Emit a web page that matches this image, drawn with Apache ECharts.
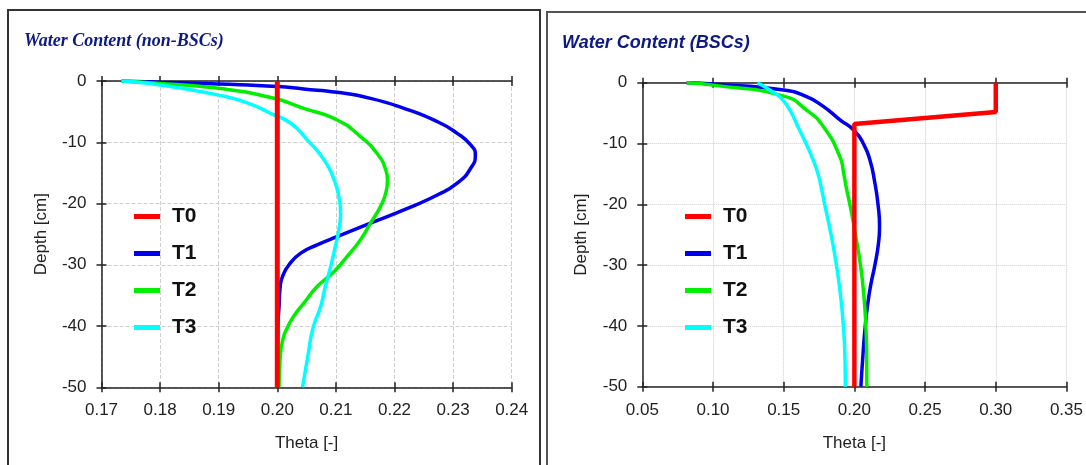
<!DOCTYPE html>
<html>
<head>
<meta charset="utf-8">
<script src="https://cdn.jsdelivr.net/npm/echarts@6/dist/echarts.min.js"></script>
<style>html,body{margin:0;padding:0;background:#fff}#c{width:1086px;height:465px}</style>
</head>
<body>
<div id="c"></div>
<script>
// ---- data: [theta, depth] ----
const seriesNames = ['T0', 'T1', 'T2', 'T3'];
const colors = ['#ff0000', '#0000ee', '#00ee00', '#00ffff'];

const nonT0 = [[0.2, 0], [0.2, -50]];
const nonT1 = [[0.1734,0],[0.18,-0.2],[0.19,-0.5],[0.20,-0.9],[0.2045,-1.3],[0.2102,-1.85],[0.2159,-2.83],[0.2216,-4.46],[0.2273,-6.63],[0.2307,-8.54],[0.2330,-10.44],[0.2338,-12.07],[0.2330,-14.25],[0.2307,-16.69],[0.2273,-18.6],[0.2216,-21.04],[0.2159,-23.2],[0.2102,-25.4],[0.2068,-26.75],[0.2040,-28.1],[0.2020,-30.0],[0.2009,-31.9],[0.2005,-33.5],[0.2003,-36.8],[0.2001,-40],[0.2,-50]];
const nonT2 = [[0.1734,0],[0.18,-0.4],[0.19,-1.2],[0.1989,-2.7],[0.2045,-4.46],[0.2102,-6.36],[0.2142,-9.08],[0.217,-11.8],[0.2185,-14.5],[0.2188,-16.15],[0.2185,-18.3],[0.2176,-20.5],[0.2159,-23.2],[0.2142,-25.9],[0.2119,-28.66],[0.2097,-31.1],[0.2068,-33.55],[0.2045,-36.3],[0.2028,-38.4],[0.2017,-40.3],[0.2010,-42],[0.2005,-45],[0.2003,-50]];
const nonT3 = [[0.1734,0],[0.18,-0.65],[0.19,-2.3],[0.195,-3.6],[0.1989,-5.3],[0.2023,-6.9],[0.2051,-9.6],[0.208,-12.9],[0.2097,-16.15],[0.2105,-18.9],[0.2108,-21.6],[0.2105,-24.3],[0.2099,-27.0],[0.2091,-30.3],[0.2082,-33.55],[0.2074,-36.8],[0.2061,-40.3],[0.2052,-45],[0.2043,-50]];

const bscT0 = [[0.30,0],[0.30,-4.8],[0.20,-6.8],[0.20,-50]];
const bscT1 = [[0.0814,0],[0.10,-0.2],[0.15,-1.2],[0.1662,-2.3],[0.178,-3.9],[0.1898,-6.1],[0.20,-7.9],[0.2063,-10],[0.211,-12.7],[0.2145,-16.5],[0.2167,-20],[0.2178,-23.6],[0.2170,-26.5],[0.2145,-30],[0.2118,-33],[0.2097,-36],[0.2077,-40],[0.2060,-45],[0.2046,-50]];
const bscT2 = [[0.0814,0],[0.10,-0.4],[0.15,-2.2],[0.1662,-4.5],[0.178,-7.2],[0.1898,-12.2],[0.1925,-15],[0.1945,-17.5],[0.1968,-20],[0.1989,-22.5],[0.2008,-25],[0.2043,-30],[0.2067,-35],[0.2081,-40],[0.2087,-45],[0.2088,-50]];
const bscT3 = [[0.1315,0],[0.136,-0.6],[0.142,-1.5],[0.148,-2.5],[0.1544,-4.5],[0.160,-7.2],[0.1658,-10],[0.1708,-12.7],[0.1743,-15],[0.1768,-17.5],[0.1790,-20],[0.1835,-25],[0.1873,-30],[0.1902,-35],[0.1922,-40],[0.1933,-45],[0.1936,-50]];

const leftX = {min: 0.17, max: 0.24, interval: 0.01};
const rightX = {min: 0.05, max: 0.35, interval: 0.05};
const depthAxis = {min: -50, max: 0, interval: 10};
const titles = ['Water Content (non-BSCs)', 'Water Content (BSCs)'];
const xName = 'Theta [-]';
const yName = 'Depth [cm]';

// ---- chart ----
const chart = echarts.init(document.getElementById('c'));
const axisCol = '#222';
const txtCol = '#222';
const fontFam = 'Liberation Sans, Arial, sans-serif';

function xAxes(grid, ext, splitType) {
  const base = {gridIndex: grid, type: 'value', min: ext.min, max: ext.max, interval: ext.interval};
  return [
    Object.assign({}, base, {position: 'bottom', name: xName, nameLocation: 'middle', nameGap: 48,
      nameTextStyle: {fontSize: 17, color: txtCol, fontFamily: fontFam},
      axisLine: {onZero: false, lineStyle: {color: axisCol, width: 1.5}},
      axisTick: {inside: false, length: 5, lineStyle: {color: axisCol, width: 1.5}},
      axisLabel: {margin: 15, fontSize: 17, color: txtCol, fontFamily: fontFam, formatter: v => v.toFixed(2)},
      splitLine: {show: true, lineStyle: {color: '#cfcfcf', width: 1, type: splitType}}}),
    Object.assign({}, base, {position: 'bottom',
      axisLine: {show: false, onZero: false}, axisTick: {inside: true, length: 5, lineStyle: {color: axisCol, width: 1.5}},
      axisLabel: {show: false}, splitLine: {show: false}}),
    Object.assign({}, base, {position: 'top',
      axisLine: {onZero: false, lineStyle: {color: axisCol, width: 1.5}}, axisTick: {inside: false, length: 5, lineStyle: {color: axisCol, width: 1.5}},
      axisLabel: {show: false}, splitLine: {show: false}}),
    Object.assign({}, base, {position: 'top',
      axisLine: {show: false, onZero: false}, axisTick: {inside: true, length: 5, lineStyle: {color: axisCol, width: 1.5}},
      axisLabel: {show: false}, splitLine: {show: false}})
  ];
}
function yAxes(grid, splitType) {
  const base = {gridIndex: grid, type: 'value', min: depthAxis.min, max: depthAxis.max, interval: depthAxis.interval, position: 'left'};
  return [
    Object.assign({}, base, {name: yName, nameLocation: 'middle', nameGap: 52, nameRotate: 90,
      nameTextStyle: {fontSize: 17, color: txtCol, fontFamily: fontFam},
      axisLine: {onZero: false, lineStyle: {color: axisCol, width: 1.5}},
      axisTick: {inside: false, length: 5, lineStyle: {color: axisCol, width: 1.5}},
      axisLabel: {margin: 15, fontSize: 17, color: txtCol, fontFamily: fontFam},
      splitLine: {show: true, lineStyle: {color: '#cfcfcf', width: 1, type: splitType}}}),
    Object.assign({}, base, {
      axisLine: {show: false, onZero: false}, axisTick: {inside: true, length: 5, lineStyle: {color: axisCol, width: 1.5}},
      axisLabel: {show: false}, splitLine: {show: false}})
  ];
}

const leftData = [nonT0, nonT1, nonT2, nonT3];
const rightData = [bscT0, bscT1, bscT2, bscT3];
const widthsL = [5, 3.5, 3.5, 3.5];
const widthsR = [4.5, 3.5, 3.5, 3.5];
const series = [];
seriesNames.forEach((n, i) => {
  series.push({name: n, type: 'line', xAxisIndex: 0, yAxisIndex: 0, data: leftData[i], showSymbol: false,
    smooth: i === 0 ? false : 0.55, lineStyle: {color: colors[i], width: widthsL[i]}, itemStyle: {color: colors[i]},
    z: i === 0 ? 5 : 3, animation: false});
  series.push({name: n, type: 'line', xAxisIndex: 4, yAxisIndex: 2, data: rightData[i], showSymbol: false,
    smooth: i === 0 ? false : 0.55, lineStyle: {color: colors[i], width: widthsR[i]}, itemStyle: {color: colors[i]},
    z: i === 0 ? 5 : 3, animation: false});
});

const legendBase = {orient: 'vertical', icon: 'rect', itemWidth: 26, itemHeight: 5, itemGap: 16,
  selectedMode: false, data: seriesNames,
  textStyle: {fontSize: 21, fontWeight: 'bold', color: '#111', fontFamily: fontFam, lineHeight: 21, padding: [0, 0, 0, 7]}};

chart.setOption({
  animation: false,
  backgroundColor: '#fff',
  title: [
    {text: titles[0], left: 19, top: 27, textStyle: {fontFamily: 'Liberation Serif, Times New Roman, serif', fontStyle: 'italic', fontWeight: 'bold', fontSize: 18, color: '#0d1a80'}},
    {text: titles[1], left: 557, top: 29, textStyle: {fontFamily: fontFam, fontStyle: 'italic', fontWeight: 'bold', fontSize: 18, color: '#0d1a80'}}
  ],
  legend: [
    Object.assign({}, legendBase, {left: 129, top: 201}),
    Object.assign({}, legendBase, {left: 680, top: 201})
  ],
  grid: [
    {left: 101.5, top: 81, width: 410.2, height: 306.3, containLabel: false},
    {left: 642.3, top: 82.7, width: 424.4, height: 304, containLabel: false}
  ],
  xAxis: xAxes(0, leftX, 'dashed').concat(xAxes(1, rightX, 'dotted')),
  yAxis: yAxes(0, 'dashed').concat(yAxes(1, 'dotted')),
  series: series,
  graphic: [
    {type: 'rect', shape: {x: 8, y: 10, width: 532, height: 480}, style: {fill: 'none', stroke: '#333', lineWidth: 2}, silent: true},
    {type: 'rect', shape: {x: 547, y: 12, width: 600, height: 480}, style: {fill: 'none', stroke: '#555', lineWidth: 2}, silent: true}
  ]
});
</script>
</body>
</html>
